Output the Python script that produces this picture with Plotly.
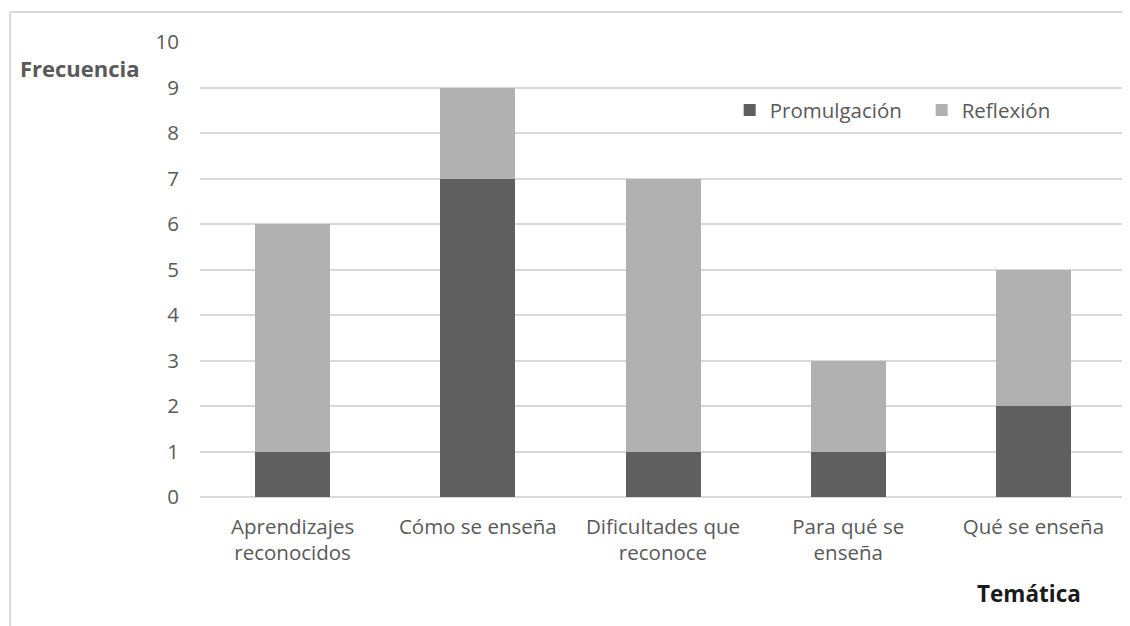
import plotly.graph_objects as go

categorias = ["Aprendizajes<br>reconocidos", "Cómo se enseña", "Dificultades que<br>reconoce",
              "Para qué se<br>enseña", "Qué se enseña"]
promulgacion = [1, 7, 1, 1, 2]
reflexion = [5, 2, 6, 2, 3]
y_ticks = list(range(0, 11))

FONT = "Open Sans"
GRAY = "#595959"
FS = 20.5

fig = go.Figure()
fig.add_trace(go.Bar(name="Promulgación", x=categorias, y=promulgacion,
                     marker=dict(color="#5f5f5f", line=dict(width=0))))
fig.add_trace(go.Bar(name="Reflexión", x=categorias, y=reflexion,
                     marker=dict(color="#b1b1b1", line=dict(width=0))))

fig.update_layout(
    barmode="stack",
    bargap=0.595,
    width=1122, height=618,
    margin=dict(l=192, r=4, t=34, b=129),
    paper_bgcolor="white", plot_bgcolor="white",
    font=dict(family=FONT, size=FS, color=GRAY),
    showlegend=True,
    legend=dict(orientation="h", x=0.572, y=0.85, xanchor="left", yanchor="middle",
                font=dict(family=FONT, size=FS, color=GRAY), bgcolor="rgba(0,0,0,0)",
                itemwidth=30, traceorder="normal", entrywidth=147, entrywidthmode="pixels"),
    xaxis=dict(showgrid=False, showline=False, ticks="", tickfont=dict(size=FS, color=GRAY),
               ticklabelstandoff=15),
    yaxis=dict(range=[0, 10], tickvals=y_ticks, showgrid=True, gridcolor="#d9d9d9", gridwidth=1.5,
               zeroline=True, zerolinecolor="#d9d9d9", zerolinewidth=1.5,
               tickfont=dict(size=FS, color=GRAY), ticklabelstandoff=20, ticks=""),
    annotations=[
        dict(text="<b>Frecuencia</b>", xref="paper", yref="paper", x=-0.1965, y=0.943,
             xanchor="left", yanchor="middle", showarrow=False,
             font=dict(family=FONT, size=22, color=GRAY)),
        dict(text="<b>Temática</b>", xref="paper", yref="paper", x=0.895, y=-0.211,
             xanchor="center", yanchor="middle", showarrow=False,
             font=dict(family=FONT, size=22.5, color="#1a1a1a")),
    ],
    shapes=[
        dict(type="line", xref="paper", yref="paper", x0=-0.205, x1=1.01, y0=1.066, y1=1.066,
             line=dict(color="#d9d9d9", width=2)),
        dict(type="line", xref="paper", yref="paper", x0=-0.205, x1=-0.205, y0=1.066, y1=-0.3,
             line=dict(color="#d9d9d9", width=2)),
    ],
)

fig.write_html("out.html")
